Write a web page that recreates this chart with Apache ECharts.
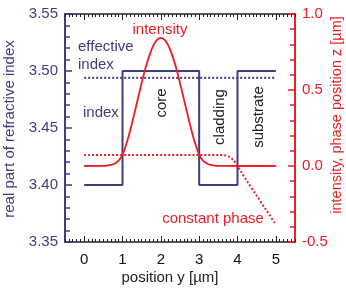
<!DOCTYPE html>
<html>
<head>
<meta charset="utf-8">
<script src="https://cdn.jsdelivr.net/npm/echarts@6/dist/echarts.min.js"></script>
<style>html,body{margin:0;padding:0;background:#fff}#c{width:346px;height:289px}</style>
</head>
<body>
<div id="c"></div>
<script>
// ---- data ----
var xTickValues = [0, 1, 2, 3, 4, 5];
var indexX = [0, 1, 1, 3, 3, 4, 4, 5];
var indexY = [3.40, 3.40, 3.50, 3.50, 3.40, 3.40, 3.50, 3.50];
var effIndexX = [0, 5];
var effIndexY = [3.494, 3.494];
var intensityX = [0, 0.5, 0.6, 0.7, 0.8, 0.9, 1.0, 1.1, 1.2, 1.3, 1.4, 1.5, 1.6, 1.7, 1.8, 1.9, 2.0,
                  2.1, 2.2, 2.3, 2.4, 2.5, 2.6, 2.7, 2.8, 2.9, 3.0, 3.1, 3.2, 3.3, 3.4, 3.5, 4.0, 5.0];
var intensityY = [0, 0.001, 0.003, 0.007, 0.016, 0.035, 0.074, 0.145, 0.234, 0.335, 0.441, 0.546, 0.644, 0.726, 0.790, 0.829, 0.843,
                  0.829, 0.790, 0.726, 0.644, 0.546, 0.441, 0.335, 0.234, 0.145, 0.074, 0.035, 0.016, 0.007, 0.003, 0.001, 0, 0];
var phaseX = [0, 3.5, 3.6, 3.7, 3.8, 3.9, 4.0, 4.1, 4.25, 4.5, 4.75, 5.0];
var phaseY = [0.073, 0.073, 0.072, 0.069, 0.059, 0.038, 0.0, -0.04, -0.10, -0.195, -0.29, -0.385];

function pairs(xs, ys) { return xs.map(function (x, i) { return [x, ys[i]]; }); }

var NAVY = '#3d3d80';
var RED = '#ee1c25';
var FONT = 'Liberation Sans, Arial, sans-serif';

var chart = echarts.init(document.getElementById('c'), null, {renderer: 'canvas'});
var grid = {left: 65, right: 51, top: 14, bottom: 47, containLabel: false};

function xAx(pos, major) {
  var o = {
    type: 'value', position: pos, min: -0.5, max: 5.5, gridIndex: 0,
    splitLine: {show: false},
    axisLine: {show: major, onZero: false, lineStyle: {color: '#222', width: 1.5}}
  };
  if (major) {
    o.interval = 0.5;
    o.axisTick = {show: true, inside: true, length: 6, customValues: xTickValues, lineStyle: {color: '#222', width: 1}};
    o.axisLabel = {show: pos === 'bottom', customValues: xTickValues, color: '#111', fontSize: 15, fontFamily: FONT, margin: 10};
  } else {
    o.interval = 0.1;
    o.axisTick = {show: true, inside: true, length: 3, lineStyle: {color: '#222', width: 1}};
    o.axisLabel = {show: false};
  }
  return o;
}

var option = {
  animation: false,
  backgroundColor: '#fff',
  grid: grid,
  xAxis: [xAx('bottom', true), xAx('bottom', false), xAx('top', true), xAx('top', false)],
  yAxis: [
    {
      type: 'value', position: 'left', min: 3.35, max: 3.55, interval: 0.05,
      splitLine: {show: false},
      axisLine: {show: true, onZero: false, lineStyle: {color: NAVY, width: 2}},
      axisTick: {show: true, inside: true, length: 7, lineStyle: {color: NAVY, width: 1.5}},
      minorTick: {show: true, splitNumber: 5, length: 5, lineStyle: {color: NAVY, width: 1.5}},
      axisLabel: {color: NAVY, fontSize: 15, fontFamily: FONT, margin: 7,
        formatter: function (v) { return v.toFixed(2); }}
    },
    {
      type: 'value', position: 'right', min: -0.5, max: 1.0, interval: 0.5,
      splitLine: {show: false},
      axisLine: {show: true, onZero: false, lineStyle: {color: RED, width: 2}},
      axisTick: {show: true, inside: true, length: 7, lineStyle: {color: RED, width: 1.5}},
      minorTick: {show: true, splitNumber: 5, length: 5, lineStyle: {color: RED, width: 1.5}},
      axisLabel: {color: RED, fontSize: 15, fontFamily: FONT, margin: 7,
        formatter: function (v) { return v.toFixed(1); }}
    }
  ],
  series: [
    {type: 'line', xAxisIndex: 0, yAxisIndex: 0, data: pairs(indexX, indexY), showSymbol: false,
      lineStyle: {color: NAVY, width: 2}},
    {type: 'line', xAxisIndex: 0, yAxisIndex: 0, data: pairs(effIndexX, effIndexY), showSymbol: false,
      lineStyle: {color: NAVY, width: 2, type: [2, 2]}},
    {type: 'line', xAxisIndex: 0, yAxisIndex: 1, data: pairs(intensityX, intensityY), showSymbol: false,
      smooth: 0.2, lineStyle: {color: RED, width: 1.8}},
    {type: 'line', xAxisIndex: 0, yAxisIndex: 1, data: pairs(phaseX, phaseY), showSymbol: false,
      smooth: 0.3, lineStyle: {color: RED, width: 2, type: [2, 2]}}
  ],
  graphic: [
    {type: 'text', x: 10, y: 129, rotation: Math.PI / 2,
      style: {text: 'real part of refractive index', fill: NAVY, font: '15px ' + FONT, textAlign: 'center', textVerticalAlign: 'middle'}},
    {type: 'text', x: 337, y: 115, rotation: Math.PI / 2,
      style: {text: 'intensity, phase position z [µm]', fill: RED, font: '14.5px ' + FONT, textAlign: 'center', textVerticalAlign: 'middle'}},
    {type: 'text', x: 170, y: 278,
      style: {text: 'position y [µm]', fill: '#222', font: '15px ' + FONT, textAlign: 'center', textVerticalAlign: 'middle'}},
    {type: 'text', x: 160, y: 30,
      style: {text: 'intensity', fill: RED, font: '15px ' + FONT, textAlign: 'center', textVerticalAlign: 'middle'}},
    {type: 'text', x: 78, y: 47,
      style: {text: 'effective', fill: NAVY, font: '15px ' + FONT, textAlign: 'left', textVerticalAlign: 'middle'}},
    {type: 'text', x: 78, y: 65,
      style: {text: 'index', fill: NAVY, font: '15px ' + FONT, textAlign: 'left', textVerticalAlign: 'middle'}},
    {type: 'text', x: 83, y: 113,
      style: {text: 'index', fill: NAVY, font: '15px ' + FONT, textAlign: 'left', textVerticalAlign: 'middle'}},
    {type: 'text', x: 162, y: 103, rotation: Math.PI / 2,
      style: {text: 'core', fill: '#222', font: '15px ' + FONT, textAlign: 'center', textVerticalAlign: 'middle'}},
    {type: 'text', x: 220, y: 117, rotation: Math.PI / 2,
      style: {text: 'cladding', fill: '#222', font: '15px ' + FONT, textAlign: 'center', textVerticalAlign: 'middle'}},
    {type: 'text', x: 259, y: 117, rotation: Math.PI / 2,
      style: {text: 'substrate', fill: '#222', font: '15px ' + FONT, textAlign: 'center', textVerticalAlign: 'middle'}},
    {type: 'text', x: 213, y: 219,
      style: {text: 'constant phase', fill: RED, font: '15px ' + FONT, textAlign: 'center', textVerticalAlign: 'middle'}}
  ]
};
chart.setOption(option);
</script>
</body>
</html>
